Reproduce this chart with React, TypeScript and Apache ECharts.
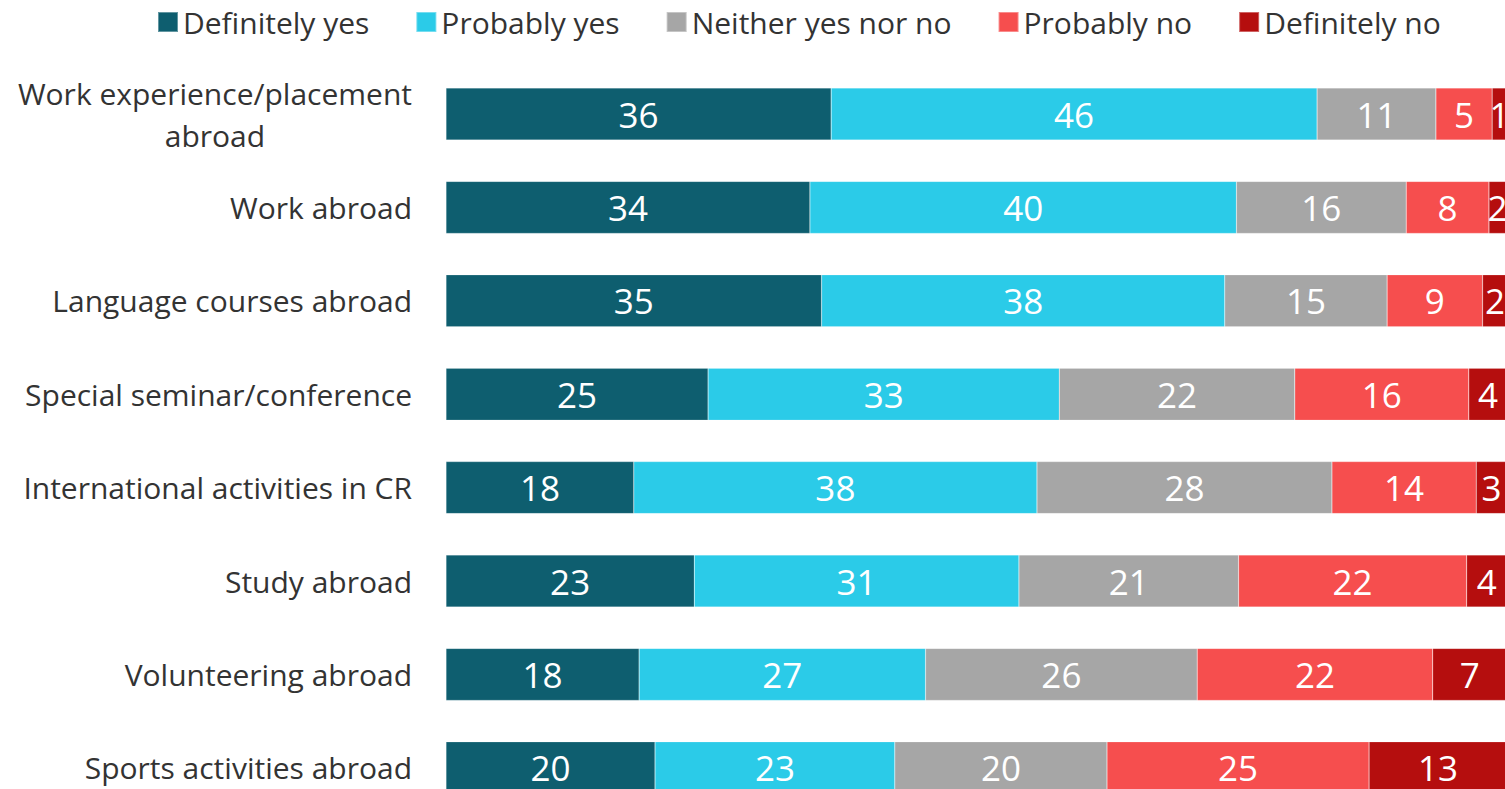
import React, { useEffect, useRef } from "react";
import * as echarts from "echarts";

const categories = [
  "Work experience/placement\nabroad",
  "Work abroad",
  "Language courses abroad",
  "Special seminar/conference",
  "International activities in CR",
  "Study abroad",
  "Volunteering abroad",
  "Sports activities abroad",
];

const seriesNames = ["Definitely yes", "Probably yes", "Neither yes nor no", "Probably no", "Definitely no"];
const colors = ["#0E5E6F", "#2BCBE8", "#A6A6A6", "#F64E4E", "#B50E0E"];

const definitelyYes = [36.3, 34.3, 35.4, 24.7, 17.7, 23.4, 18.2, 19.7];
const probablyYes = [45.8, 40.2, 38.0, 33.1, 38.0, 30.6, 27.0, 22.6];
const neither = [11.2, 16.0, 15.3, 22.2, 27.8, 20.7, 25.6, 20.0];
const probablyNo = [5.3, 7.8, 9.0, 16.4, 13.6, 21.5, 22.2, 24.7];
const definitelyNo = [1.4, 1.6, 2.4, 3.6, 2.9, 3.8, 7.0, 13.0];

const seriesData = [definitelyYes, probablyYes, neither, probablyNo, definitelyNo];

const FONT = "'Open Sans', 'Noto Sans', sans-serif";

export default function App() {
  const ref = useRef<HTMLDivElement>(null);
  useEffect(() => {
    if (!ref.current) return;
    const chart = echarts.init(ref.current, undefined, { renderer: "svg" });
    chart.setOption({
      animation: false,
      textStyle: { fontFamily: FONT },
      legend: {
        top: 2,
        left: 152,
        itemWidth: 20,
        itemHeight: 20,
        itemGap: 46,
        icon: "rect",
        textStyle: { fontSize: 30, color: "#333", fontFamily: FONT },
        data: seriesNames,
      },
      grid: { left: 446, width: 1061, top: 67.3, height: 747.2 },
      xAxis: {
        type: "value",
        min: 0,
        max: 100,
        show: false,
      },
      yAxis: {
        type: "category",
        data: categories,
        inverse: true,
        axisLine: { show: false },
        axisTick: { show: false },
        axisLabel: {
          fontSize: 30,
          color: "#333",
          fontFamily: FONT,
          margin: 34,
          lineHeight: 42,
          align: "right",
          formatter: (v: string) =>
            v
              .split("\n")
              .map((line) => "{c|" + line + "}")
              .join("\n"),
          rich: {
            c: { fontSize: 30, color: "#333", fontFamily: FONT, lineHeight: 42, align: "center" },
          },
        },
      },
      series: seriesNames.map((name, i) => ({
        name,
        type: "bar",
        stack: "total",
        barWidth: 52,
        data: seriesData[i],
        itemStyle: { color: colors[i], borderColor: "rgba(255,255,255,0.35)", borderWidth: 0.5 },
        label: {
          show: true,
          position: "inside",
          color: "#fff",
          fontSize: 35,
          fontFamily: FONT,
          formatter: (p: any) => String(Math.round(p.value)),
        },
      })),
    });
    return () => chart.dispose();
  }, []);
  return (
    <div style={{ position: "fixed", left: 0, top: 0, width: 1505, height: 789, overflow: "hidden", background: "#fff" }}>
      <div ref={ref} style={{ width: 1540, height: 840 }} />
    </div>
  );
}
